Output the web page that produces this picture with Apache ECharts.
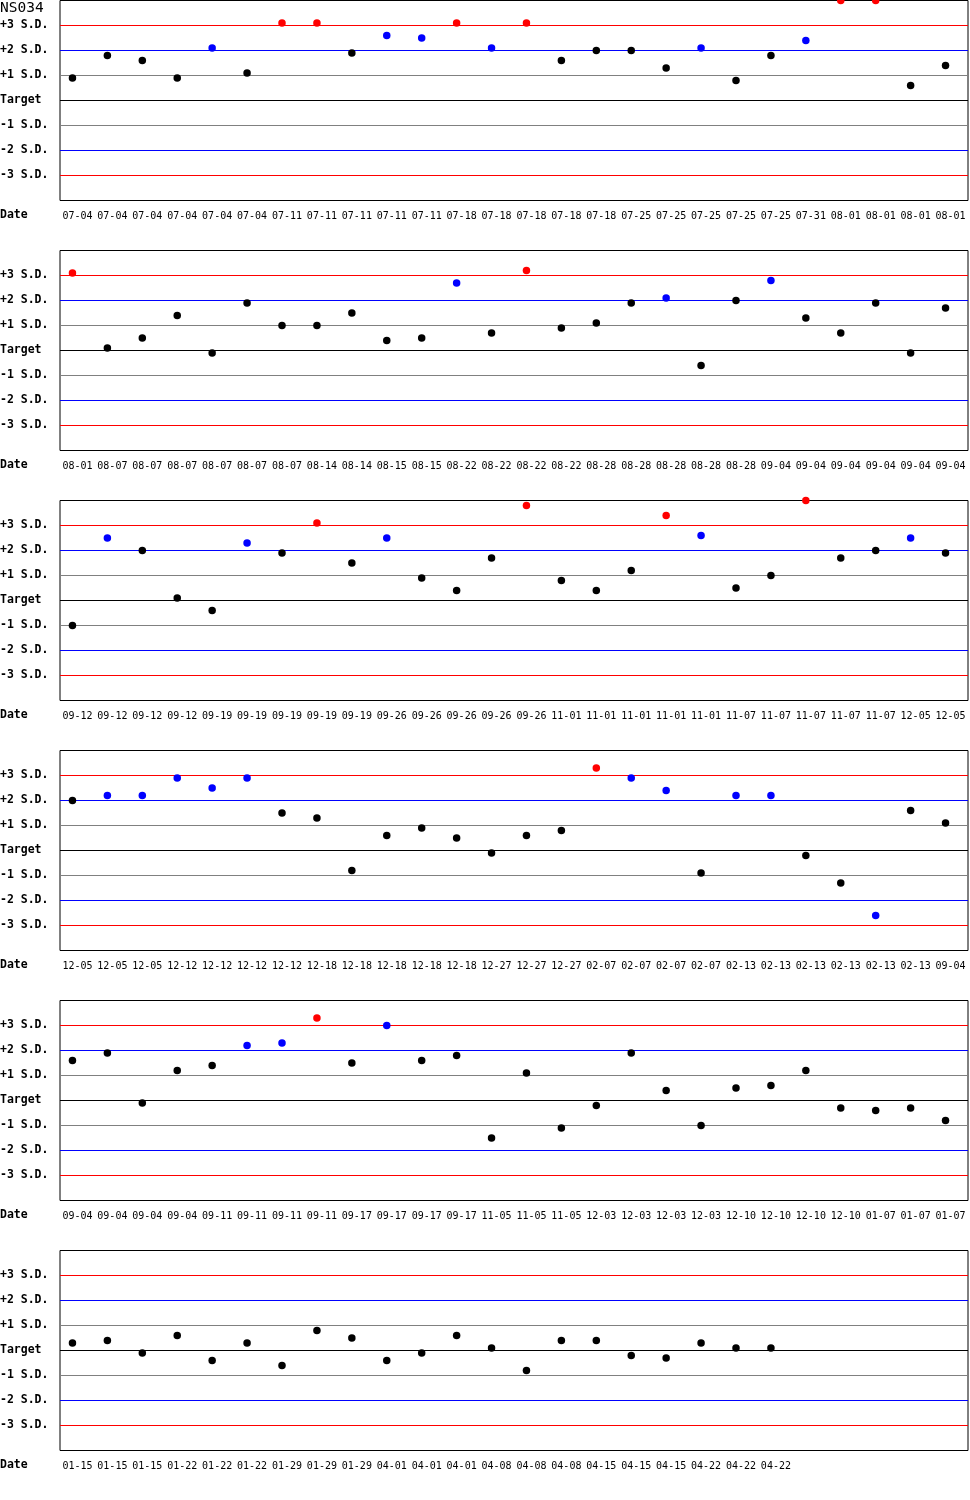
<!DOCTYPE html>
<html><head><meta charset="utf-8">
<script src="https://cdn.jsdelivr.net/npm/echarts@6/dist/echarts.min.js"></script>
<style>html,body{margin:0;padding:0;background:#fff}#c{width:970px;height:1500px}</style>
</head><body><div id="c"></div>
<script>
const chartTitle = 'NS034';
const sdLevels = [3, 2, 1, 0, -1, -2, -3];
const yTickLabels = {'3':'+3 S.D.','2':'+2 S.D.','1':'+1 S.D.','0':'Target','-1':'-1 S.D.','-2':'-2 S.D.','-3':'-3 S.D.'};
const xTitle = 'Date';

const dates1 = ['07-04','07-04','07-04','07-04','07-04','07-04','07-11','07-11','07-11','07-11','07-11','07-18','07-18','07-18','07-18','07-18','07-25','07-25','07-25','07-25','07-25','07-31','08-01','08-01','08-01','08-01'];
const values1 = [0.9, 1.8, 1.6, 0.9, 2.1, 1.1, 3.1, 3.1, 1.9, 2.6, 2.5, 3.1, 2.1, 3.1, 1.6, 2.0, 2.0, 1.3, 2.1, 0.8, 1.8, 2.4, 4.0, 4.0, 0.6, 1.4];

const dates2 = ['08-01','08-07','08-07','08-07','08-07','08-07','08-07','08-14','08-14','08-15','08-15','08-22','08-22','08-22','08-22','08-28','08-28','08-28','08-28','08-28','09-04','09-04','09-04','09-04','09-04','09-04'];
const values2 = [3.1, 0.1, 0.5, 1.4, -0.1, 1.9, 1.0, 1.0, 1.5, 0.4, 0.5, 2.7, 0.7, 3.2, 0.9, 1.1, 1.9, 2.1, -0.6, 2.0, 2.8, 1.3, 0.7, 1.9, -0.1, 1.7];

const dates3 = ['09-12','09-12','09-12','09-12','09-19','09-19','09-19','09-19','09-19','09-26','09-26','09-26','09-26','09-26','11-01','11-01','11-01','11-01','11-01','11-07','11-07','11-07','11-07','11-07','12-05','12-05'];
const values3 = [-1.0, 2.5, 2.0, 0.1, -0.4, 2.3, 1.9, 3.1, 1.5, 2.5, 0.9, 0.4, 1.7, 3.8, 0.8, 0.4, 1.2, 3.4, 2.6, 0.5, 1.0, 4.0, 1.7, 2.0, 2.5, 1.9];

const dates4 = ['12-05','12-05','12-05','12-12','12-12','12-12','12-12','12-18','12-18','12-18','12-18','12-18','12-27','12-27','12-27','02-07','02-07','02-07','02-07','02-13','02-13','02-13','02-13','02-13','02-13','09-04'];
const values4 = [2.0, 2.2, 2.2, 2.9, 2.5, 2.9, 1.5, 1.3, -0.8, 0.6, 0.9, 0.5, -0.1, 0.6, 0.8, 3.3, 2.9, 2.4, -0.9, 2.2, 2.2, -0.2, -1.3, -2.6, 1.6, 1.1];

const dates5 = ['09-04','09-04','09-04','09-04','09-11','09-11','09-11','09-11','09-17','09-17','09-17','09-17','11-05','11-05','11-05','12-03','12-03','12-03','12-03','12-10','12-10','12-10','12-10','01-07','01-07','01-07'];
const values5 = [1.6, 1.9, -0.1, 1.2, 1.4, 2.2, 2.3, 3.3, 1.5, 3.0, 1.6, 1.8, -1.5, 1.1, -1.1, -0.2, 1.9, 0.4, -1.0, 0.5, 0.6, 1.2, -0.3, -0.4, -0.3, -0.8];

const dates6 = ['01-15','01-15','01-15','01-22','01-22','01-22','01-29','01-29','01-29','04-01','04-01','04-01','04-08','04-08','04-08','04-15','04-15','04-15','04-22','04-22','04-22'];
const values6 = [0.3, 0.4, -0.1, 0.6, -0.4, 0.3, -0.6, 0.8, 0.5, -0.4, -0.1, 0.6, 0.1, -0.8, 0.4, 0.4, -0.2, -0.3, 0.3, 0.1, 0.1];

const panels = [
  {dates: dates1, values: values1},
  {dates: dates2, values: values2},
  {dates: dates3, values: values3},
  {dates: dates4, values: values4},
  {dates: dates5, values: values5},
  {dates: dates6, values: values6}
];

const SLOTS = 26;
const PANEL_STEP = 250;
const PANEL_H = 200;
const MONO = '"DejaVu Sans Mono", monospace';

function lineColor(level) {
  const a = Math.abs(level);
  if (a === 3) return '#ff0000';
  if (a === 2) return '#0000ff';
  if (a === 1) return '#808080';
  return '#000000';
}
function pointColor(v) {
  const a = Math.abs(v);
  if (a > 3) return '#ff0000';
  if (a > 2) return '#0000ff';
  return '#000000';
}

const grids = [], xAxes = [], yAxes = [], series = [], graphics = [];
graphics.push({type: 'text', x: 0, y: 8, z: 100, style: {text: chartTitle, font: '14.5px ' + MONO, fill: '#000', verticalAlign: 'middle'}});

panels.forEach((p, i) => {
  const top = i * PANEL_STEP;
  grids.push({left: 60, top: top + 0.5, width: 908, height: PANEL_H, show: true, borderColor: '#000', borderWidth: 1, backgroundColor: '#fff', containLabel: false, outerBoundsMode: 'none'});
  const cats = p.dates.slice();
  while (cats.length < SLOTS) cats.push('');
  xAxes.push({
    type: 'category', gridIndex: i, data: cats, boundaryGap: true,
    axisLine: {show: false}, axisTick: {show: false}, splitLine: {show: false},
    axisLabel: {interval: 0, margin: 11, fontSize: 10, fontFamily: MONO, color: '#000'}
  });
  yAxes.push({
    type: 'value', gridIndex: i, min: -4, max: 4, interval: 1,
    axisLine: {show: false}, axisTick: {show: false}, splitLine: {show: false},
    axisLabel: {
      align: 'left', margin: 60, fontSize: 11.5, fontWeight: 'bold', fontFamily: MONO, color: '#000',
      formatter: v => (yTickLabels[String(v)] !== undefined ? yTickLabels[String(v)] : '')
    }
  });
  series.push({
    type: 'line', xAxisIndex: i, yAxisIndex: i, data: [], z: 1, silent: true,
    markLine: {
      silent: true, symbol: ['none', 'none'], label: {show: false}, animation: false,
      data: sdLevels.map(l => ({yAxis: l, lineStyle: {color: lineColor(l), width: 1, type: 'solid'}}))
    }
  });
  series.push({
    type: 'scatter', xAxisIndex: i, yAxisIndex: i, z: 10, clip: false,
    symbol: 'circle', symbolSize: 7.5, symbolOffset: [-5, 0],
    data: p.values,
    itemStyle: {opacity: 1, color: params => pointColor(params.value)}
  });
  graphics.push({type: 'text', x: 0, y: top + 215, style: {text: xTitle, font: 'bold 11.5px ' + MONO, fill: '#000', verticalAlign: 'middle'}});
});

const chart = echarts.init(document.getElementById('c'));
chart.setOption({
  backgroundColor: '#fff',
  animation: false,
  grid: grids, xAxis: xAxes, yAxis: yAxes, series: series, graphic: graphics
});
</script>
</body></html>
